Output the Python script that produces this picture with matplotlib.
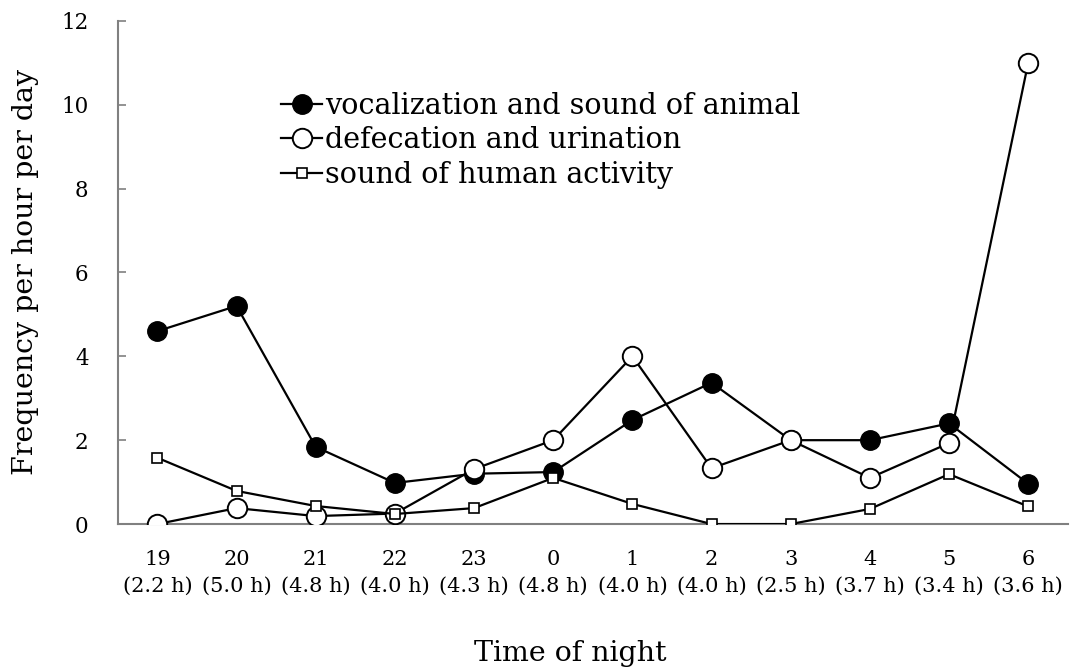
import matplotlib
matplotlib.use("Agg")
import matplotlib.pyplot as plt

hours = ["19", "20", "21", "22", "23", "0", "1", "2", "3", "4", "5", "6"]
durations = ["2.2 h", "5.0 h", "4.8 h", "4.0 h", "4.3 h", "4.8 h", "4.0 h", "4.0 h", "2.5 h", "3.7 h", "3.4 h", "3.6 h"]
vocalization = [4.6, 5.2, 1.84, 0.98, 1.2, 1.24, 2.48, 3.37, 2.0, 2.0, 2.4, 0.96]
defecation = [0.0, 0.38, 0.19, 0.25, 1.31, 2.0, 4.0, 1.33, 2.0, 1.1, 1.93, 11.0]
human = [1.58, 0.79, 0.43, 0.24, 0.38, 1.1, 0.48, 0.0, 0.0, 0.36, 1.19, 0.42]
yticks = [0, 2, 4, 6, 8, 10, 12]

plt.rcParams['font.family'] = ['DejaVu Serif']

fig = plt.figure(figsize=(10.71, 6.71), dpi=100)
ax = fig.add_axes([0.110, 0.219, 0.887, 0.750])
x = list(range(len(hours)))

ax.plot(x, vocalization, color='black', lw=1.6, marker='o', ms=14,
        mfc='black', mec='black', label='vocalization and sound of animal', zorder=3)
ax.plot(x, defecation, color='black', lw=1.6, marker='o', ms=14,
        mfc='white', mec='black', mew=1.4, label='defecation and urination', zorder=4)
ax.plot(x, human, color='black', lw=1.6, marker='s', ms=7.5,
        mfc='white', mec='black', mew=1.2, label='sound of human activity', zorder=5)

ax.set_xlim(-0.5, len(hours) - 0.5)
ax.set_ylim(0, 12)
ax.set_yticks(yticks)
ax.set_yticklabels([str(v) for v in yticks], fontsize=15.5)
ax.set_xticks(x)
ax.set_xticklabels([f"{h}\n({d})" for h, d in zip(hours, durations)], fontsize=15,
                   linespacing=1.5)
ax.tick_params(axis='x', length=0, pad=19)
ax.tick_params(axis='y', length=6, width=1.2, color='#808080', pad=21, direction='in')

for s in ['top', 'right']:
    ax.spines[s].set_visible(False)
for s in ['left', 'bottom']:
    ax.spines[s].set_color('#808080')
    ax.spines[s].set_linewidth(1.5)

ax.set_ylabel('Frequency per hour per day', fontsize=20.5)
ax.yaxis.set_label_coords(-0.083, 0.5)
ax.set_xlabel('Time of night', fontsize=20.5)
ax.xaxis.set_label_coords(0.476, -0.230)

leg = ax.legend(loc='upper left', bbox_to_anchor=(0.16, 0.881), frameon=False,
                fontsize=20.6, handlelength=1.42, handletextpad=0.12,
                labelspacing=0.22, borderaxespad=0)

fig.savefig('out.png', dpi=100)
